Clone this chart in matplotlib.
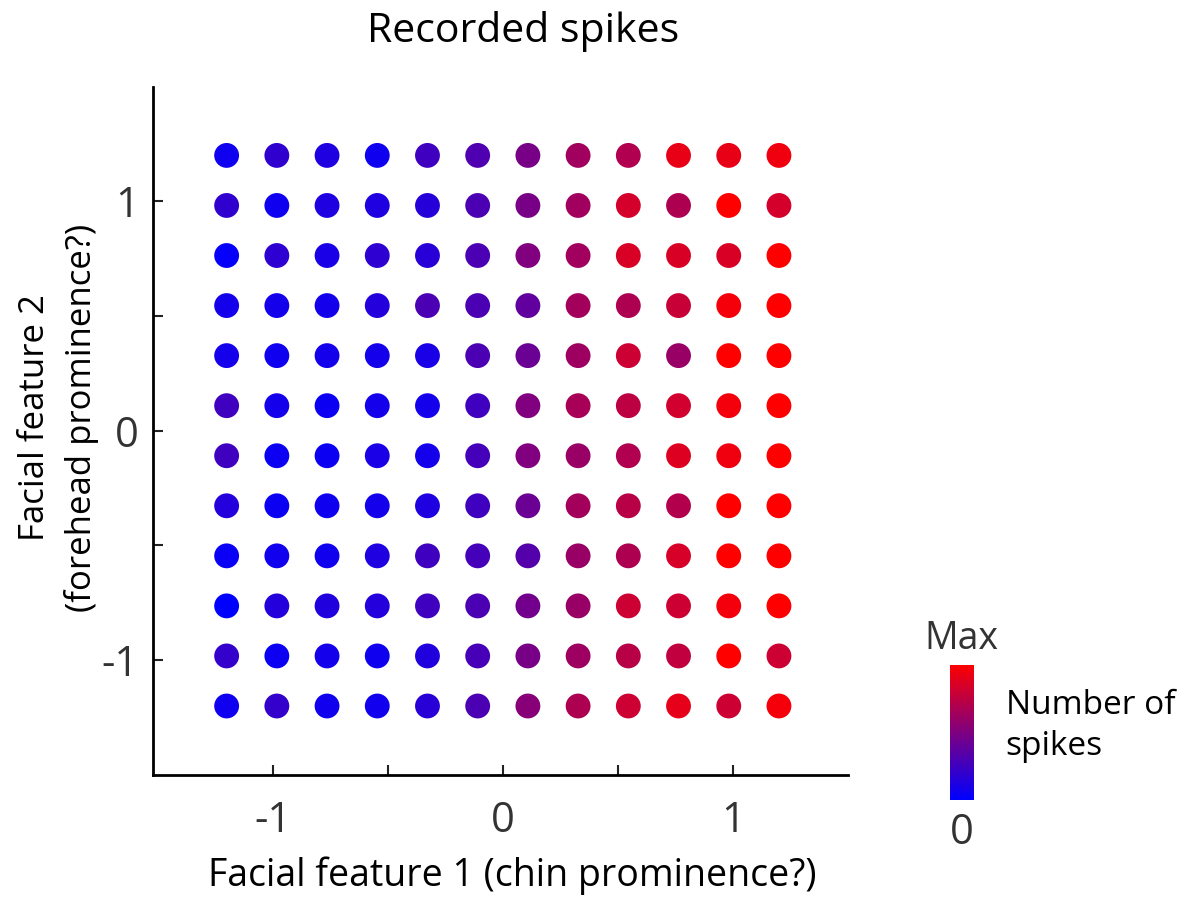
import numpy as np
import matplotlib
matplotlib.use("Agg")
import matplotlib.pyplot as plt
from matplotlib.colors import LinearSegmentedColormap

plt.rcParams['font.family'] = ['Open Sans', 'DejaVu Sans']

# grid of feature values (12 x 12)
feature1 = np.linspace(-1.2, 1.2, 12)
feature2 = np.linspace(1.2, -1.2, 12)

# relative spike counts, rows top (feature2 = 1.2) to bottom (-1.2)
spikes = [
    [0.06, 0.19, 0.12, 0.06, 0.25, 0.31, 0.47, 0.63, 0.69, 0.91, 0.91, 0.94],
    [0.19, 0.06, 0.12, 0.12, 0.15, 0.30, 0.47, 0.63, 0.83, 0.68, 1.00, 0.83],
    [0.02, 0.18, 0.10, 0.18, 0.16, 0.30, 0.50, 0.63, 0.85, 0.85, 0.85, 1.00],
    [0.08, 0.08, 0.08, 0.14, 0.30, 0.30, 0.38, 0.64, 0.68, 0.78, 0.96, 1.00],
    [0.08, 0.06, 0.08, 0.08, 0.10, 0.30, 0.42, 0.62, 0.80, 0.60, 1.00, 1.00],
    [0.25, 0.08, 0.05, 0.08, 0.08, 0.25, 0.50, 0.66, 0.74, 0.82, 0.95, 1.00],
    [0.25, 0.05, 0.05, 0.10, 0.08, 0.27, 0.50, 0.60, 0.69, 0.87, 0.94, 1.00],
    [0.14, 0.05, 0.06, 0.08, 0.12, 0.25, 0.42, 0.64, 0.72, 0.70, 1.00, 1.00],
    [0.04, 0.07, 0.07, 0.12, 0.25, 0.27, 0.33, 0.60, 0.68, 0.84, 1.00, 1.00],
    [0.00, 0.14, 0.13, 0.14, 0.25, 0.30, 0.45, 0.60, 0.80, 0.80, 0.95, 1.00],
    [0.20, 0.05, 0.08, 0.06, 0.13, 0.28, 0.47, 0.62, 0.72, 0.75, 1.00, 0.80],
    [0.06, 0.20, 0.07, 0.07, 0.16, 0.30, 0.53, 0.68, 0.80, 0.90, 0.80, 0.96],
]

xticks = [-1, -0.5, 0, 0.5, 1]
xticklabels = ['-1', '', '0', '', '1']

cmap = LinearSegmentedColormap.from_list('bluered', ['#0000ff', '#ff0000'])

X, Y = np.meshgrid(feature1, feature2)
C = np.array(spikes)

fig = plt.figure(figsize=(11.86, 9.02), dpi=100)
ax = fig.add_axes([0.129, 0.141, 0.586, 0.763])
ax.scatter(X.ravel(), Y.ravel(), c=C.ravel(), cmap=cmap, vmin=0, vmax=1,
           s=320, edgecolors='none')

ax.set_xlim(-1.52, 1.5)
ax.set_ylim(-1.5, 1.5)
for side in ['top', 'right']:
    ax.spines[side].set_visible(False)
for side in ['left', 'bottom']:
    ax.spines[side].set_linewidth(2)
ax.set_xticks(xticks)
ax.set_xticklabels(xticklabels)
ax.set_yticks(xticks)
ax.set_yticklabels(xticklabels)
ax.tick_params(direction='in', length=7, width=1.5, labelsize=30,
               colors='#222222', labelcolor='#333333')
ax.tick_params(axis='x', pad=18)
ax.tick_params(axis='y', pad=10)

ax.set_xlabel('Facial feature 1 (chin prominence?)', fontsize=27)
ax.xaxis.set_label_coords(0.517, -0.118)
ax.set_ylabel('Facial feature 2\n(forehead prominence?)', fontsize=25,
              linespacing=1.45)
ax.yaxis.set_label_coords(-0.078, 0.519)
fig.text(0.441, 0.965, 'Recorded spikes', fontsize=29.5, ha='center',
         va='center')

# colour scale
cax = fig.add_axes([0.801, 0.113, 0.0194, 0.150])
cax.imshow(np.linspace(0, 1, 256)[::-1, None], aspect='auto', cmap=cmap,
           extent=[0, 1, 0, 1])
cax.set_axis_off()
fig.text(0.811, 0.292, 'Max', fontsize=27, ha='center', va='center',
         color='#333333')
fig.text(0.811, 0.077, '0', fontsize=30, ha='center', va='center',
         color='#333333')
fig.text(0.848, 0.195, 'Number of\nspikes', fontsize=24, ha='left',
         va='center', linespacing=1.3)

fig.savefig('out.png', dpi=100)
